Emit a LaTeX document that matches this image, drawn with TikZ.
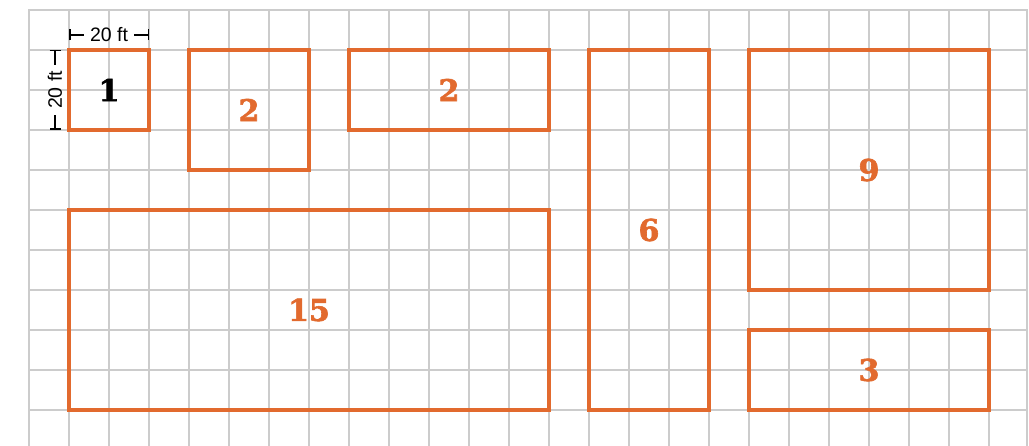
\documentclass[tikz,border=0pt]{standalone}
\usepackage{fontspec}
\setmainfont{Liberation Sans}
\newfontfamily\slabfont[FakeBold=2]{DejaVu Serif Bold}
\usetikzlibrary{arrows.meta}
\definecolor{plotorange}{HTML}{E26A2E}
\definecolor{gridgray}{HTML}{CCCCCC}
\tikzset{
  gridline/.style={draw=gridgray, line width=2pt},
  plotbox/.style={draw=plotorange, line width=3.5pt, inner sep=0pt, fill=none,
    font=\slabfont\fontsize{30}{30}\selectfont, text=plotorange},
  dimlabel/.style={font=\fontsize{19.5}{19.5}\selectfont, inner sep=6pt, text=black},
  dimline/.style={draw=black, line width=1.5pt, {Bar[width=11pt]}-},
}
\begin{document}
\begin{tikzpicture}[x=1pt,y=-1pt]
\useasboundingbox (0,0) rectangle (1029,446);
\fill[white] (0,0) rectangle (1029,446);
% grid
\foreach \i in {0,...,24} {
  \draw[gridline] ({29+40*\i},10) -- ({29+40*\i},446);
}
\draw[gridline] (1027,10) -- (1027,446);
\foreach \j in {0,...,10} {
  \draw[gridline] (28,{10+40*\j}) -- (1028,{10+40*\j});
}
% plots
\node[plotbox, text=black, minimum width=80pt, minimum height=80pt] (p1) at (109,90) {1};
\node[plotbox, minimum width=120pt, minimum height=120pt] (p2a) at (249,110) {2};
\node[plotbox, minimum width=200pt, minimum height=80pt] (p2b) at (449,90) {2};
\node[plotbox, minimum width=120pt, minimum height=360pt] (p6) at (649,230) {6};
\node[plotbox, minimum width=240pt, minimum height=240pt] (p9) at (869,170) {9};
\node[plotbox, minimum width=240pt, minimum height=80pt] (p3) at (869,370) {3};
\node[plotbox, minimum width=480pt, minimum height=200pt] (p15) at (309,310) {15};
% dimensions
\node[dimlabel] (dh) at (109,35) {20 ft};
\coordinate (dhl) at (69,35);
\coordinate (dhr) at (149,35);
\draw[dimline] (dhl) -- (dh.west);
\draw[dimline] (dhr) -- (dh.east);
\node[dimlabel, rotate=90] (dv) at (55,90) {20 ft};
\coordinate (dvt) at (55,50);
\coordinate (dvb) at (55,130);
\draw[dimline] (dvt) -- (dv.east);
\draw[dimline] (dvb) -- (dv.west);
\end{tikzpicture}
\end{document}
